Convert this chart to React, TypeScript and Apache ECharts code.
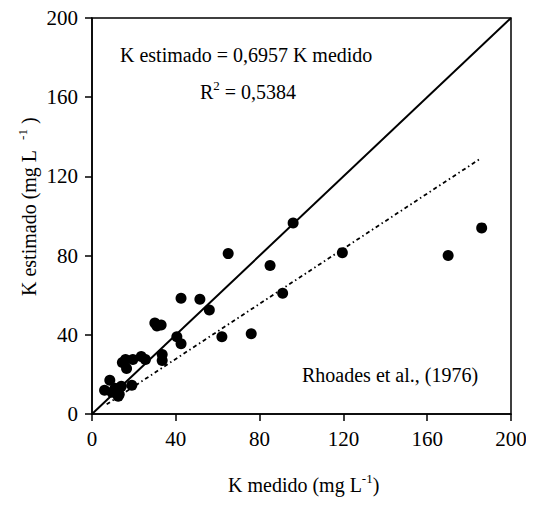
import React, { useEffect, useRef } from "react";
import * as echarts from "echarts";

const kMedido = [6, 8.5, 9.5, 11, 12.5, 13, 14, 14.5, 16, 16.5, 19, 19.5, 23.5, 25.5, 30, 31, 33, 33.5, 33.5, 40.5, 42.5, 42.5, 51.5, 56, 62, 65, 76, 85, 91, 96, 119.5, 170, 186];
const kEstimado = [12, 17, 11, 13, 9, 10, 14, 26, 27.5, 23, 14.5, 27.5, 29, 27.5, 46, 44.5, 45, 30, 27, 39, 35.5, 58.5, 58, 52.5, 39, 81, 40.5, 75, 61, 96.5, 81.5, 80, 94];
const identityLine = [[0, 0], [200, 200]];
const slope = 0.6957;
const regressionX = [7, 185];
const axisTicks = [0, 40, 80, 120, 160, 200];

const FONT = "Liberation Serif";

export default function App() {
  const ref = useRef<HTMLDivElement>(null);
  useEffect(() => {
    const chart = echarts.init(ref.current!, null, { renderer: "svg" });
    const points = kMedido.map((x, i) => [x, kEstimado[i]]);
    const regLine = regressionX.map((x) => [x, slope * x]);
    const sup = { fontFamily: FONT, fontSize: 13, fill: "#000", verticalAlign: "top", padding: [0, 0, 10, 0] };
    const norm = { fontFamily: FONT, fontSize: 20, fill: "#000", verticalAlign: "bottom" };
    chart.setOption({
      animation: false,
      backgroundColor: "#fff",
      grid: { left: 92, right: 23, top: 18, bottom: 92, show: true, borderColor: "#000", borderWidth: 1.5 },
      xAxis: {
        type: "value", min: axisTicks[0], max: axisTicks[axisTicks.length - 1], interval: 40,
        splitLine: { show: false },
        axisLine: { lineStyle: { color: "#000", width: 1.5 } },
        axisTick: { inside: false, length: 7, lineStyle: { color: "#000", width: 1.5 } },
        axisLabel: { color: "#000", fontFamily: FONT, fontSize: 21, margin: 14 },
      },
      yAxis: {
        type: "value", min: axisTicks[0], max: axisTicks[axisTicks.length - 1], interval: 40,
        splitLine: { show: false },
        axisLine: { lineStyle: { color: "#000", width: 1.5 } },
        axisTick: { inside: false, length: 7, lineStyle: { color: "#000", width: 1.5 } },
        axisLabel: { color: "#000", fontFamily: FONT, fontSize: 21, margin: 14 },
      },
      series: [
        {
          type: "line", data: identityLine, symbol: "none",
          lineStyle: { color: "#000", width: 2 }, z: 2,
        },
        {
          type: "line", data: regLine, symbol: "none",
          lineStyle: { color: "#000", width: 1.8, type: [4, 3, 1.5, 3] }, z: 2,
        },
        {
          type: "scatter", data: points, symbol: "circle", symbolSize: 11,
          itemStyle: { color: "#000", opacity: 1 }, z: 3,
        },
      ],
      graphic: [
        {
          type: "text", left: 120, top: 45,
          style: { text: "K estimado = 0,6957 K medido", fontFamily: FONT, fontSize: 20, fill: "#000" },
        },
        {
          type: "text", left: 200, top: 79,
          style: { text: "{n|R}{s|2}{n| = 0,5384}", rich: { n: norm, s: sup } },
        },
        {
          type: "text", left: 302, top: 365,
          style: { text: "Rhoades et al., (1976)", fontFamily: FONT, fontSize: 20, fill: "#000" },
        },
        {
          type: "text", left: 228, top: 472,
          style: { text: "{n|K medido (mg L}{s|-1}{n|)}", rich: { n: norm, s: sup } },
        },
        {
          type: "text", x: 16, y: 296, rotation: Math.PI / 2,
          style: { text: "{n|K estimado (mg L  }{s|-1}{n| )}", rich: { n: norm, s: sup } },
        },
      ],
    });
    return () => chart.dispose();
  }, []);
  return <div ref={ref} style={{ width: 534, height: 506, margin: -8 }} />;
}
